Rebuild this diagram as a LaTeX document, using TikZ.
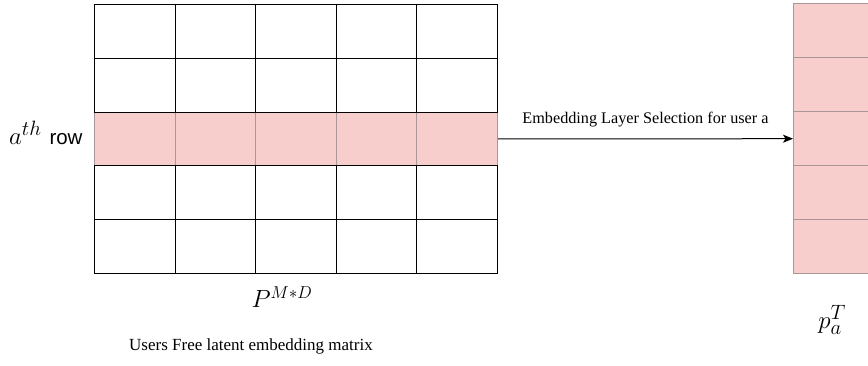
\documentclass[tikz,border=0pt]{standalone}
\usepackage{fontspec}
\setmainfont{Liberation Serif}
\newfontfamily\helv{Liberation Sans}
\usetikzlibrary{arrows.meta}
\definecolor{pinkfill}{HTML}{F8CECC}
\definecolor{pinkline}{RGB}{170,150,150}
\begin{document}
\begin{tikzpicture}[x=1pt,y=-1pt,
  cell/.style={draw=black,line width=1pt,minimum width=80.6pt,minimum height=53.8pt,inner sep=0pt,anchor=north west},
  pcell/.style={cell,draw=pinkline,fill=pinkfill},
  lbl/.style={inner sep=0pt,anchor=center}]
\useasboundingbox (0,0) rectangle (868,366);
\clip (0,0) rectangle (868,366);
% grid
\foreach \r in {1,2,4,5}{
  \foreach \c in {1,...,5}{
    \node[cell] (g-\r-\c) at ({94+(\c-1)*80.6},{4+(\r-1)*53.8}) {};
  }
}
\foreach \c in {1,...,5}{
  \node[pcell] (g-3-\c) at ({94+(\c-1)*80.6},{4+2*53.8}) {};
}
\draw[line width=1pt] (g-2-1.south west) -- (g-2-5.south east);
\draw[line width=1pt] (g-4-1.north west) -- (g-4-5.north east);
% vector
\foreach \r in {1,...,5}{
  \node[pcell] (v-\r) at (793,{3.3+(\r-1)*54}) {};
}
% arrow
\draw[line width=1pt,-{Stealth[length=10pt,width=8pt,inset=2.5pt]}] (g-3-5.east) -- node[lbl,above=11pt,font=\fontsize{16.2}{20}\selectfont] (al) {Embedding Layer Selection for user a} (v-3.west);
% labels
\node[lbl,anchor=base west] (rowl) at (9,145) {\fontsize{29}{32}\selectfont$a^{th}$\hspace{8pt}{\fontsize{20.5}{24}\selectfont\helv row}};
\node[lbl] (pm) at (282,297) {\fontsize{23}{28}\selectfont$P^{M*D}$};
\node[lbl] (cap) at (251,346) {\fontsize{17}{20}\selectfont Users Free latent embedding matrix};
\node[lbl] (pa) at (832,320) {\fontsize{28}{32}\selectfont$p_a^T$};
\end{tikzpicture}
\end{document}
